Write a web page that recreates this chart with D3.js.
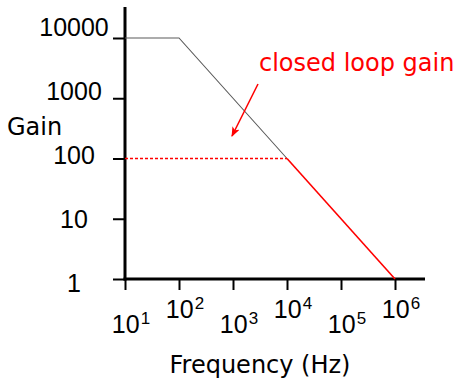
<!DOCTYPE html>
<html>
<head>
<meta charset="utf-8">
<script src="https://cdn.jsdelivr.net/npm/d3@7"></script>
<style>
  html, body { margin: 0; padding: 0; background: #fff; }
  svg { display: block; }
  .num { font-family: "Liberation Sans", Arial, sans-serif; fill: #000; }
  .word { font-family: "DejaVu Sans", sans-serif; }
</style>
</head>
<body>
<svg id="chart" width="457" height="383"></svg>
<script>
// Bode magnitude sketch: open-loop gain vs. frequency, with closed-loop gain.
const yTickValues = [1, 10, 100, 1000, 10000];
const yTickLabels = ["1", "10", "100", "1000", "10000"];
const xTickValues = [1e1, 1e2, 1e3, 1e4, 1e5, 1e6];
const xTickExponents = ["1", "2", "3", "4", "5", "6"];

// Open-loop gain: flat at 10^4 up to the first pole, then -1 decade/decade
const openLoopFreq = [1e1, 1e2, 1e4];
const openLoopGain = [1e4, 1e4, 1e2];
// Closed-loop gain: flat at 100, then following the open-loop roll-off
const closedLoopFlatFreq = [1e1, 1e4];
const closedLoopFlatGain = [1e2, 1e2];
const closedLoopRollFreq = [1e4, 1e6];
const closedLoopRollGain = [1e2, 1];

const svg = d3.select("#chart");

const x = d3.scaleLog().domain([1e1, 1e6]).range([125, 395]);
const y = d3.scaleLog().domain([1, 1e4]).range([279, 38]);

const red = "#ff0000";

// Axis ticks (labels drawn separately, staggered)
const yAxis = d3.axisLeft(y).tickValues(yTickValues).tickFormat("").tickSize(12).tickSizeOuter(0);
const gy = svg.append("g").attr("transform", "translate(125,0)").call(yAxis);
gy.select(".domain").remove();
gy.selectAll(".tick line").attr("stroke", "#000").attr("stroke-width", 2);

const xAxis = d3.axisBottom(x).tickValues(xTickValues).tickFormat("").tickSize(11).tickSizeOuter(0);
const gx = svg.append("g").attr("transform", "translate(0,279)").call(xAxis);
gx.select(".domain").remove();
gx.selectAll(".tick line").attr("stroke", "#000").attr("stroke-width", 2);

// Axis lines
svg.append("line")
  .attr("x1", 125).attr("x2", 125).attr("y1", 7).attr("y2", 280.5)
  .attr("stroke", "#000").attr("stroke-width", 3);
svg.append("line")
  .attr("x1", 123.5).attr("x2", 425).attr("y1", 279).attr("y2", 279)
  .attr("stroke", "#000").attr("stroke-width", 3);

// Y tick labels, spread slightly around the "10" tick
const yRef = y(10);
svg.append("g").selectAll("text")
  .data(yTickValues)
  .join("text")
  .attr("class", "num")
  .attr("font-size", 25)
  .attr("text-anchor", "middle")
  .attr("x", 74)
  .attr("y", d => yRef + (y(d) - yRef) * 1.0625 + 9)
  .text((d, i) => yTickLabels[i]);

// X tick labels as powers of ten, alternating between two rows
const xl = svg.append("g").selectAll("text")
  .data(xTickValues)
  .join("text")
  .attr("class", "num")
  .attr("font-size", 25)
  .attr("text-anchor", "middle")
  .attr("x", d => x(d) + 6)
  .attr("y", (d, i) => i % 2 === 0 ? 333 : 318);
xl.append("tspan").text("10");
xl.append("tspan")
  .attr("font-size", 17)
  .attr("dx", 1)
  .attr("dy", -9)
  .text((d, i) => xTickExponents[i]);

// Axis titles
svg.append("text")
  .attr("class", "word")
  .attr("font-size", 24)
  .attr("x", 7).attr("y", 135)
  .attr("fill", "#000")
  .text("Gain");
svg.append("text")
  .attr("class", "word")
  .attr("font-size", 24)
  .attr("text-anchor", "middle")
  .attr("x", 260).attr("y", 373)
  .attr("fill", "#000")
  .text("Frequency (Hz)");

const line = d3.line().x(d => x(d[0])).y(d => y(d[1]));

// Open-loop gain curve
svg.append("path")
  .datum(d3.zip(openLoopFreq, openLoopGain))
  .attr("d", line)
  .attr("fill", "none")
  .attr("stroke", "#5a5a5a")
  .attr("stroke-width", 1.1);

// Closed-loop gain: dotted flat part and solid roll-off
svg.append("path")
  .datum(d3.zip(closedLoopFlatFreq, closedLoopFlatGain))
  .attr("d", line)
  .attr("fill", "none")
  .attr("stroke", red)
  .attr("stroke-width", 1.6)
  .attr("stroke-dasharray", "3,2")
  .attr("transform", "translate(0,0)");
svg.append("path")
  .datum(d3.zip(closedLoopRollFreq, closedLoopRollGain))
  .attr("d", line)
  .attr("fill", "none")
  .attr("stroke", red)
  .attr("stroke-width", 1.6);

// Annotation with arrow
const defs = svg.append("defs");
defs.append("marker")
  .attr("id", "arrowhead")
  .attr("viewBox", "0 0 10 8")
  .attr("refX", 9).attr("refY", 4)
  .attr("markerWidth", 10).attr("markerHeight", 8)
  .attr("markerUnits", "userSpaceOnUse")
  .attr("orient", "auto")
  .append("path")
  .attr("d", "M0,0 L10,4 L0,8 L2.5,4 Z")
  .attr("fill", red);

svg.append("line")
  .attr("x1", 258).attr("y1", 84)
  .attr("x2", 232).attr("y2", 136)
  .attr("stroke", red)
  .attr("stroke-width", 1.5)
  .attr("marker-end", "url(#arrowhead)");

svg.append("text")
  .attr("class", "word")
  .attr("font-size", 24)
  .attr("x", 259).attr("y", 71)
  .attr("fill", red)
  .text("closed loop gain");
</script>
</body>
</html>
